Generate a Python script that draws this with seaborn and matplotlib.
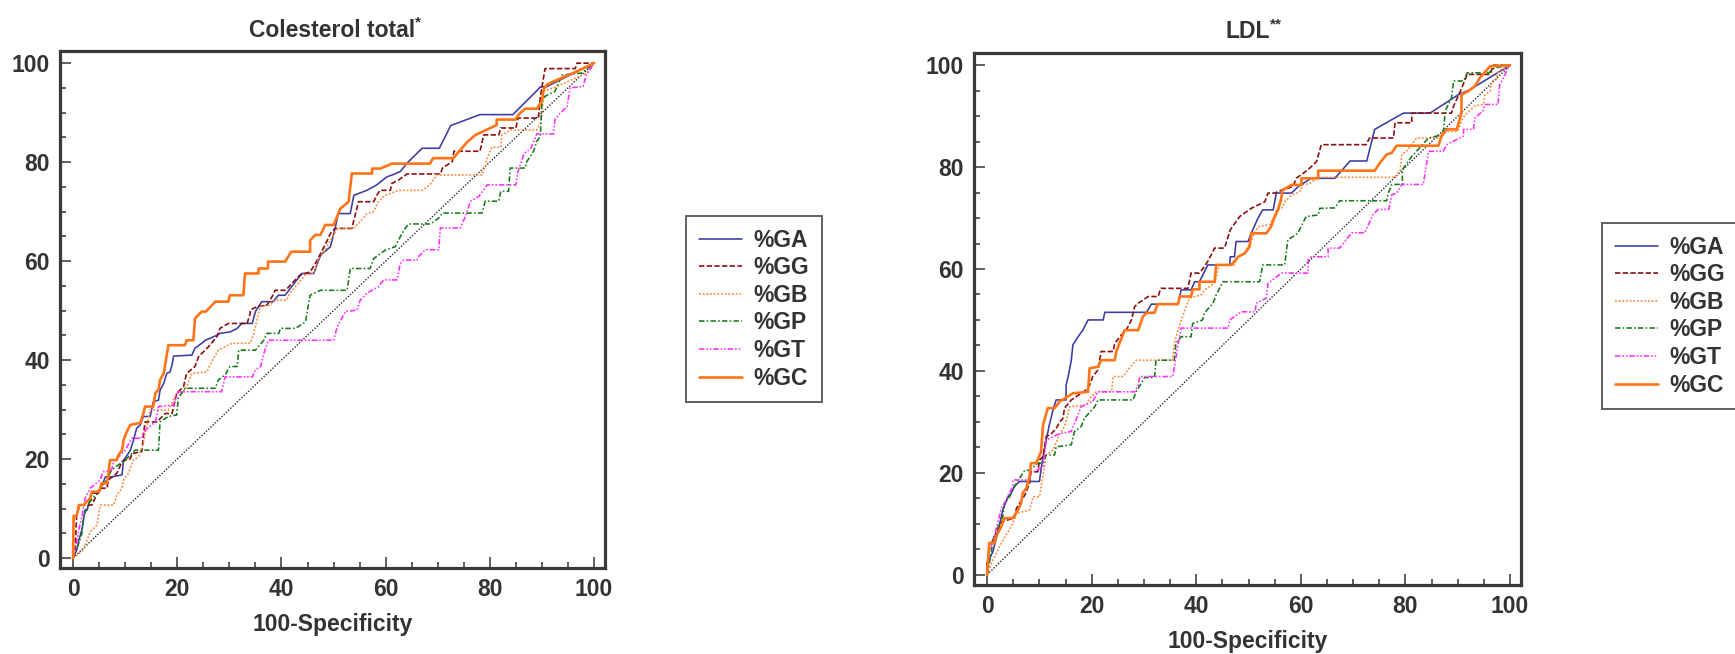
import matplotlib
matplotlib.use("Agg")
import matplotlib.pyplot as plt
from matplotlib.lines import Line2D
from matplotlib.ticker import MultipleLocator
import pandas as pd
import seaborn as sns

GROUPS = ["%GA", "%GG", "%GB", "%GP", "%GT", "%GC"]
TITLES = ["Colesterol total", "LDL"]
TITLE_MARKS = ["*", "**"]
X_LABEL = "100-Specificity"
TICKS = [0, 20, 40, 60, 80, 100]

# ---- ROC curves, total cholesterol (x = 100-specificity, y = sensitivity) ----
CT_GA_X = [0, 0.7, 1.1, 1.7, 2.3, 2.7, 3.6, 4.9, 5.2, 6.2, 7.4, 9.4, 9.7, 10.6, 11.0, 11.6, 12.2, 12.9, 13.5, 14.8, 15.4, 16.4, 16.7, 17.4, 18.0, 18.6, 19.0, 19.3, 22.8, 23.4, 24.7, 25.4, 27.6, 28.2, 30.2, 31.5, 32.4, 34.4, 35.0, 36.2, 38.4, 39.4, 40.7, 43.9, 46.2, 47.5, 49.4, 50.3, 50.9, 53.2, 53.9, 56.4, 58.3, 60.2, 61.5, 62.8, 64.1, 67.0, 70.3, 72.5, 78.1, 84.4, 88.7, 89.7, 90.8, 100]
CT_GA_Y = [0, 1.6, 3.6, 5.7, 9.7, 9.7, 13.1, 13.1, 13.7, 16.4, 16.4, 16.8, 19.8, 21.1, 21.8, 23.8, 26.2, 26.9, 28.6, 28.6, 31.6, 31.9, 33.9, 35.3, 37.3, 37.6, 39.0, 40.8, 41.0, 42.4, 43.4, 44.0, 45.0, 45.4, 45.7, 46.4, 47.4, 47.4, 49.8, 51.8, 51.8, 53.1, 53.1, 57.5, 57.5, 61.2, 62.9, 66.6, 69.6, 69.6, 73.3, 74.3, 75.4, 77.0, 77.5, 78.1, 79.8, 82.8, 82.8, 87.4, 89.6, 89.6, 94.1, 95.2, 95.2, 100]

CT_GG_X = [0, 0.4, 0.7, 1.4, 3.6, 4.4, 5.2, 6.5, 6.8, 8.4, 9.0, 9.4, 11.0, 11.3, 13.2, 13.5, 13.8, 16.1, 17.7, 19.0, 19.9, 21.2, 21.8, 23.4, 24.1, 26.0, 27.6, 28.2, 29.8, 33.4, 34.0, 34.0, 35.3, 37.2, 38.2, 38.8, 40.8, 42.0, 43.6, 45.5, 46.5, 47.5, 48.8, 49.4, 50.3, 53.5, 54.8, 57.7, 58.3, 58.9, 60.9, 61.2, 62.5, 64.1, 70.5, 70.9, 72.8, 73.1, 78.1, 78.4, 78.8, 81.7, 82.1, 85.0, 85.4, 89.3, 89.7, 90.6, 96.4, 96.7, 100]
CT_GG_Y = [0, 1.6, 9.0, 10.7, 10.7, 12.5, 14.1, 14.1, 15.8, 17.1, 18.5, 19.5, 20.1, 21.1, 21.5, 24.5, 27.5, 27.5, 29.2, 29.2, 33.3, 34.6, 37.3, 38.7, 40.7, 42.7, 44.7, 46.4, 47.4, 47.4, 49.4, 50.1, 50.8, 51.1, 52.8, 54.1, 54.1, 55.5, 57.2, 57.8, 59.5, 61.5, 64.2, 65.6, 66.6, 66.6, 72.0, 72.0, 73.3, 74.3, 74.3, 75.7, 76.4, 77.6, 77.6, 78.8, 80.1, 82.2, 82.2, 83.5, 85.5, 85.5, 86.9, 86.9, 88.9, 88.9, 93.3, 98.9, 98.9, 100, 100]

CT_GB_X = [0, 2.0, 3.3, 4.6, 5.2, 7.8, 8.4, 9.4, 9.7, 10.6, 11.6, 12.6, 13.5, 14.0, 14.8, 18.3, 19.9, 21.5, 22.8, 25.7, 26.6, 27.9, 30.5, 34.0, 34.7, 35.9, 37.8, 38.8, 41.0, 41.6, 44.6, 46.2, 47.1, 48.7, 49.4, 50.7, 53.8, 54.8, 56.4, 57.7, 58.6, 59.9, 62.5, 67.0, 68.5, 69.8, 78.5, 79.1, 79.5, 80.4, 82.1, 82.3, 84.0, 89.0, 89.7, 90.0, 90.3, 92.2, 93.5, 98.6, 100]
CT_GB_Y = [0, 1.6, 5.3, 6.7, 10.7, 10.7, 12.7, 14.1, 15.8, 17.1, 19.8, 20.5, 23.2, 26.0, 29.9, 29.9, 33.3, 33.9, 37.3, 37.6, 39.7, 42.0, 43.4, 43.4, 45.4, 50.8, 51.1, 52.1, 52.1, 53.5, 57.2, 57.5, 60.2, 62.9, 64.2, 66.6, 66.6, 67.6, 69.6, 70.0, 72.0, 73.3, 74.3, 74.3, 75.4, 77.4, 77.4, 79.1, 80.8, 83.0, 83.0, 85.5, 86.5, 86.5, 87.9, 89.6, 94.3, 95.0, 95.6, 98.0, 100]

CT_GP_X = [0, 1.1, 1.7, 2.0, 3.0, 4.9, 6.5, 7.4, 10.0, 11.9, 16.4, 16.7, 18.3, 19.9, 20.2, 21.5, 27.3, 27.9, 29.2, 30.1, 31.5, 31.8, 35.0, 36.6, 37.2, 39.5, 39.8, 42.7, 44.6, 45.5, 47.5, 52.6, 53.2, 57.0, 57.7, 59.9, 61.8, 62.8, 63.8, 64.4, 68.6, 70.2, 70.9, 78.5, 79.1, 81.7, 82.1, 83.6, 83.9, 86.8, 87.1, 88.4, 89.0, 89.7, 90.0, 90.6, 92.5, 93.8, 97.6, 100]
CT_GP_Y = [0, 3.0, 5.0, 8.4, 11.0, 13.7, 15.8, 17.8, 19.8, 21.8, 21.8, 27.5, 28.6, 28.9, 32.3, 34.3, 34.3, 36.0, 37.0, 38.7, 38.7, 42.0, 42.0, 44.0, 45.4, 45.4, 46.4, 46.4, 47.7, 53.1, 54.1, 54.1, 58.5, 58.5, 60.5, 62.2, 62.9, 64.9, 66.7, 67.5, 67.5, 68.7, 69.7, 69.7, 72.1, 72.1, 74.1, 74.1, 78.8, 78.8, 80.1, 82.2, 84.2, 85.2, 92.3, 93.3, 94.3, 97.6, 98.0, 100]

CT_GT_X = [0, 0.4, 1.1, 1.7, 2.3, 3.3, 5.2, 5.8, 7.4, 7.8, 10.0, 11.3, 13.2, 13.5, 15.8, 16.4, 19.3, 20.2, 28.5, 29.2, 34.4, 35.0, 36.0, 36.6, 37.5, 50.0, 50.7, 52.3, 54.5, 55.1, 56.4, 58.6, 59.6, 62.2, 62.8, 63.5, 66.0, 66.3, 67.6, 70.2, 70.5, 74.3, 75.3, 76.3, 77.9, 79.5, 85.0, 85.3, 86.6, 87.9, 89.0, 92.2, 92.5, 93.5, 94.8, 95.4, 97.9, 98.5, 100]
CT_GT_Y = [0, 1.6, 5.7, 8.4, 12.0, 14.1, 15.8, 17.4, 17.8, 19.5, 21.8, 24.2, 24.2, 25.5, 27.5, 30.6, 30.9, 33.6, 33.6, 36.6, 36.6, 38.0, 38.7, 41.3, 44.0, 44.0, 46.7, 49.8, 50.1, 52.1, 53.5, 54.8, 56.2, 56.2, 59.5, 60.2, 60.2, 60.9, 62.3, 62.3, 66.7, 66.7, 69.0, 72.1, 73.1, 75.4, 75.4, 77.8, 81.8, 82.8, 85.7, 85.7, 88.6, 89.9, 91.2, 95.0, 95.3, 97.6, 100]

CT_GC_X = [0, 0.1, 0.7, 1.1, 2.0, 3.3, 3.6, 5.0, 5.5, 6.5, 6.8, 7.1, 8.4, 8.7, 9.4, 9.7, 10.3, 11.0, 12.9, 13.5, 13.8, 15.4, 15.8, 16.4, 16.7, 17.4, 18.3, 21.5, 21.8, 23.1, 23.4, 24.7, 25.5, 27.3, 29.8, 30.1, 32.7, 33.0, 35.6, 35.6, 37.4, 37.4, 40.7, 41.9, 45.5, 45.5, 46.5, 47.5, 48.4, 50.0, 51.3, 52.9, 53.5, 57.4, 57.4, 59.0, 61.2, 68.5, 69.1, 73.0, 75.6, 77.1, 81.3, 81.3, 84.9, 85.5, 86.8, 89.0, 90.0, 90.3, 90.9, 92.2, 96.0, 100]
CT_GC_Y = [0, 8.5, 8.5, 10.7, 10.7, 12.1, 13.4, 13.4, 15.1, 15.1, 17.1, 19.8, 19.8, 20.8, 21.8, 23.8, 25.5, 26.9, 27.3, 29.2, 30.6, 30.6, 33.3, 34.0, 36.0, 37.3, 43.0, 43.0, 44.0, 44.0, 48.4, 49.8, 49.8, 51.8, 51.8, 53.1, 53.1, 57.5, 57.5, 58.5, 58.5, 59.9, 59.9, 61.9, 61.9, 64.2, 65.3, 65.3, 67.3, 67.3, 70.6, 72.0, 77.7, 77.7, 78.7, 78.7, 79.7, 79.7, 80.8, 80.8, 84.0, 85.4, 87.5, 88.6, 88.6, 89.6, 90.8, 90.8, 92.3, 94.6, 95.6, 96.3, 98.0, 100]

# ---- ROC curves, LDL ----
LDL_GA_X = [0, 0.0, 1.1, 2.0, 3.0, 4.0, 4.6, 5.2, 6.2, 10.0, 10.3, 10.7, 11.3, 11.9, 12.6, 13.2, 15.1, 15.1, 15.5, 16.1, 16.4, 17.4, 18.3, 19.3, 22.2, 22.5, 30.5, 31.4, 36.5, 37.1, 39.0, 39.7, 40.6, 42.2, 46.4, 46.5, 47.3, 47.6, 49.9, 50.5, 51.8, 52.7, 54.7, 55.3, 58.2, 59.5, 62.0, 66.5, 69.4, 72.6, 74.1, 79.6, 84.7, 90.1, 92.3, 100]
LDL_GA_Y = [0, 2.2, 4.5, 8.1, 12.7, 15.3, 16.0, 17.3, 18.3, 18.3, 20.5, 23.2, 26.4, 29.4, 32.3, 34.3, 34.3, 37.2, 38.9, 42.1, 45.1, 46.7, 48.0, 50.0, 50.0, 51.5, 51.5, 53.1, 53.1, 55.9, 55.9, 57.5, 57.5, 60.8, 60.8, 62.4, 62.4, 65.4, 65.4, 67.0, 70.0, 71.6, 71.6, 74.9, 74.9, 76.2, 77.8, 77.8, 81.2, 81.2, 87.4, 90.6, 90.6, 94.2, 95.2, 100]

LDL_GG_X = [0, 0.0, 0.4, 1.7, 2.7, 5.2, 5.6, 6.2, 7.2, 8.1, 8.4, 9.7, 10.0, 10.7, 11.3, 12.3, 13.2, 13.9, 14.5, 14.8, 16.1, 19.0, 19.6, 20.2, 21.2, 21.8, 24.1, 24.4, 25.7, 26.6, 27.6, 28.2, 28.9, 30.8, 32.7, 33.2, 38.4, 39.0, 40.6, 41.3, 42.2, 43.5, 45.4, 46.5, 48.3, 50.5, 53.1, 53.7, 55.0, 55.6, 58.5, 59.1, 61.4, 63.0, 63.9, 72.5, 73.1, 77.7, 78.0, 81.2, 81.2, 88.8, 89.2, 90.5, 91.8, 96.2, 96.8, 100]
LDL_GG_Y = [0, 2.2, 5.2, 8.1, 10.4, 11.1, 13.0, 14.0, 15.6, 17.9, 20.2, 20.2, 22.5, 23.2, 27.1, 27.7, 28.7, 30.0, 30.7, 32.7, 34.3, 36.3, 37.2, 38.9, 40.2, 43.8, 43.8, 45.4, 47.1, 48.0, 50.0, 52.6, 53.3, 54.6, 54.6, 56.2, 56.2, 59.2, 59.2, 60.1, 61.5, 64.1, 64.1, 67.7, 70.3, 71.9, 73.2, 74.9, 74.9, 75.2, 76.2, 77.8, 79.5, 81.1, 84.4, 84.4, 85.7, 85.7, 88.7, 88.7, 90.6, 90.6, 92.0, 94.9, 98.2, 98.2, 100, 100]

LDL_GB_X = [0, 0.8, 2.7, 4.0, 4.9, 5.6, 8.1, 8.8, 10.0, 10.3, 11.3, 12.6, 13.9, 14.8, 15.5, 15.8, 19.0, 19.6, 20.9, 23.8, 24.1, 26.0, 26.9, 28.5, 35.5, 35.8, 36.5, 37.7, 38.7, 40.9, 41.6, 43.5, 44.4, 47.3, 47.9, 49.2, 50.5, 51.8, 54.0, 54.7, 55.3, 56.3, 56.9, 58.2, 59.8, 60.4, 61.7, 63.0, 63.6, 78.0, 79.0, 79.3, 80.2, 82.1, 86.3, 87.2, 90.0, 90.7, 91.4, 93.3, 94.9, 95.2, 96.2, 96.5, 97.4, 97.7, 100]
LDL_GB_Y = [0, 2.2, 6.2, 8.4, 10.1, 12.0, 12.7, 15.3, 15.3, 17.0, 23.5, 24.5, 27.7, 29.1, 31.7, 33.0, 33.3, 34.6, 35.9, 35.9, 38.9, 38.9, 40.2, 42.1, 42.1, 45.4, 48.0, 51.6, 54.3, 54.9, 55.9, 57.2, 60.8, 60.8, 62.4, 63.1, 65.7, 68.3, 68.7, 70.0, 71.6, 71.9, 73.2, 74.5, 75.2, 76.5, 76.8, 77.8, 78.0, 78.0, 79.5, 82.5, 83.1, 85.7, 85.7, 87.0, 87.0, 89.0, 90.3, 92.0, 92.3, 94.2, 94.9, 96.9, 97.2, 98.8, 100]

LDL_GP_X = [0, 0.8, 1.1, 2.0, 3.0, 3.3, 4.3, 5.2, 7.2, 8.1, 9.7, 10.7, 11.3, 12.9, 13.2, 16.1, 16.7, 18.0, 18.6, 20.6, 21.2, 27.9, 28.5, 29.5, 30.1, 32.0, 32.3, 35.8, 36.1, 37.1, 39.0, 39.3, 41.2, 41.5, 43.2, 43.8, 45.1, 52.1, 52.7, 56.9, 57.5, 59.4, 61.0, 63.3, 63.6, 66.5, 67.4, 76.4, 76.7, 77.4, 79.4, 79.4, 81.2, 84.4, 87.2, 87.6, 88.8, 89.2, 91.1, 91.8, 95.9, 97.1, 100]
LDL_GP_Y = [0, 4.2, 6.8, 9.1, 11.4, 14.0, 15.3, 17.3, 20.5, 20.5, 21.9, 21.9, 23.5, 23.5, 25.1, 25.5, 28.1, 29.1, 30.7, 33.0, 34.3, 34.3, 35.9, 37.6, 38.7, 38.7, 42.1, 42.1, 45.4, 46.7, 46.7, 49.3, 50.0, 51.3, 53.3, 54.9, 57.5, 57.5, 60.8, 60.8, 65.7, 67.0, 70.3, 70.6, 71.9, 72.0, 73.4, 73.4, 74.9, 76.6, 76.6, 79.5, 82.1, 85.7, 86.4, 91.0, 93.6, 96.9, 96.9, 98.5, 98.5, 99.5, 100]

LDL_GT_X = [0, 0.4, 1.4, 2.7, 3.3, 4.0, 4.9, 4.9, 8.1, 8.4, 10.7, 11.3, 13.9, 16.1, 18.0, 20.2, 21.2, 28.2, 28.9, 29.2, 35.5, 36.5, 37.1, 46.1, 46.4, 48.6, 51.2, 51.5, 53.4, 53.7, 56.3, 61.4, 61.4, 62.0, 65.2, 65.2, 67.4, 69.7, 72.2, 73.8, 74.8, 76.8, 77.4, 78.3, 79.3, 83.4, 83.8, 84.4, 87.2, 87.9, 91.1, 91.1, 93.0, 93.3, 94.8, 95.2, 97.7, 98.0, 98.6, 99.6, 100]
LDL_GT_Y = [0, 4.5, 7.5, 13.0, 14.0, 15.6, 17.3, 18.6, 18.6, 19.9, 21.2, 26.4, 27.7, 28.1, 33.0, 34.0, 35.9, 35.9, 37.2, 38.9, 38.9, 45.1, 48.4, 48.4, 50.0, 51.6, 51.6, 53.3, 54.3, 57.2, 59.2, 59.2, 61.8, 62.4, 62.4, 64.1, 64.1, 67.1, 67.1, 70.7, 71.7, 71.7, 74.6, 74.9, 76.6, 76.6, 79.2, 83.1, 83.1, 84.4, 86.1, 87.4, 87.4, 89.7, 91.0, 92.3, 92.3, 96.2, 97.2, 99.5, 100]

LDL_GC_X = [0, 0.4, 1.4, 1.7, 2.7, 3.3, 4.9, 5.9, 6.5, 6.8, 7.5, 8.1, 8.4, 9.4, 10.3, 10.7, 11.6, 12.9, 13.9, 16.4, 19.3, 19.6, 21.2, 21.8, 24.4, 24.7, 26.3, 28.9, 29.8, 30.5, 32.0, 32.6, 36.5, 36.8, 39.0, 39.3, 40.6, 40.6, 43.5, 43.8, 46.7, 48.0, 49.3, 50.2, 50.5, 53.4, 54.3, 54.9, 55.6, 56.2, 56.5, 58.2, 60.1, 60.1, 63.3, 63.3, 74.1, 75.1, 76.4, 77.4, 78.3, 86.3, 86.9, 87.9, 89.8, 90.7, 90.7, 92.0, 93.3, 94.2, 96.2, 100]
LDL_GC_Y = [0, 6.2, 6.2, 7.5, 9.4, 11.1, 11.1, 12.7, 14.0, 16.0, 17.0, 19.2, 21.9, 21.9, 24.1, 29.4, 32.7, 32.7, 34.0, 35.6, 35.9, 40.5, 40.8, 42.1, 42.1, 43.8, 48.0, 48.0, 50.7, 51.4, 51.4, 53.1, 53.1, 54.6, 54.6, 56.0, 56.0, 57.5, 57.5, 60.8, 60.8, 62.4, 63.1, 64.4, 67.0, 67.0, 68.3, 70.0, 71.6, 73.6, 75.5, 76.5, 76.5, 77.8, 77.8, 79.3, 79.3, 80.8, 82.5, 82.8, 84.2, 84.2, 86.1, 87.4, 87.4, 90.6, 94.2, 94.9, 95.9, 97.5, 99.8, 100]

PANELS = [
    {"%GA": (CT_GA_X, CT_GA_Y), "%GG": (CT_GG_X, CT_GG_Y), "%GB": (CT_GB_X, CT_GB_Y),
     "%GP": (CT_GP_X, CT_GP_Y), "%GT": (CT_GT_X, CT_GT_Y), "%GC": (CT_GC_X, CT_GC_Y)},
    {"%GA": (LDL_GA_X, LDL_GA_Y), "%GG": (LDL_GG_X, LDL_GG_Y), "%GB": (LDL_GB_X, LDL_GB_Y),
     "%GP": (LDL_GP_X, LDL_GP_Y), "%GT": (LDL_GT_X, LDL_GT_Y), "%GC": (LDL_GC_X, LDL_GC_Y)},
]
CHANCE_X = [0, 100]
CHANCE_Y = [0, 100]

# ---- styling ----
INK = "#333333"
COLORS = {"%GA": "#3b3ba3", "%GG": "#8b0f0f", "%GB": "#ff8a3d",
          "%GP": "#157a15", "%GT": "#ff2cff", "%GC": "#ff7417"}
DASHES = {"%GA": "", "%GG": (3.2, 1.4), "%GB": (1.1, 1.1),
          "%GP": (3.4, 1.4, 1.0, 1.4), "%GT": (3.4, 1.2, 1.0, 1.2, 1.0, 1.2),
          "%GC": ""}
WIDTHS = {"%GA": 1.15, "%GG": 1.2, "%GB": 1.2, "%GP": 1.15, "%GT": 1.15, "%GC": 1.9}

sns.set_theme(style="white")
plt.rcParams["font.family"] = ["Liberation Sans", "DejaVu Sans"]
plt.rcParams["font.weight"] = "bold"
plt.rcParams["text.color"] = INK

FS = 16.5
fig = plt.figure(figsize=(17.35, 6.54), dpi=100)
axes = [fig.add_axes([0.0343, 0.1309, 0.3144, 0.7907]),
        fig.add_axes([0.5611, 0.1049, 0.3156, 0.8141])]
legend_anchor = [(686 / 1735, 1 - 216 / 654), (1602 / 1735, 1 - 223 / 654)]

for ax, curves, title, mark, anchor in zip(axes, PANELS, TITLES, TITLE_MARKS, legend_anchor):
    # chance diagonal
    diag = pd.DataFrame({"x": CHANCE_X, "y": CHANCE_Y})
    sns.lineplot(data=diag, x="x", y="y", ax=ax, color="#2a2a2a", lw=1.0,
                 sort=False, estimator=None)
    ax.lines[-1].set_dashes((1.0, 1.2))

    frames = []
    for g in GROUPS:
        xs, ys = curves[g]
        frames.append(pd.DataFrame({"fpr": xs, "tpr": ys, "group": g}))
    df = pd.concat(frames, ignore_index=True)
    sns.lineplot(data=df, x="fpr", y="tpr", hue="group", style="group", size="group",
                 hue_order=GROUPS, style_order=GROUPS, size_order=GROUPS,
                 palette=COLORS, dashes=DASHES, sizes=WIDTHS,
                 sort=False, estimator=None, legend=False, ax=ax)

    ax.set_xlim(-2.6, 102.1)
    ax.set_ylim(-2.1, 102.4)
    ax.xaxis.set_minor_locator(MultipleLocator(5))
    ax.yaxis.set_minor_locator(MultipleLocator(5))
    ax.set_xticks(TICKS)
    ax.set_yticks(TICKS)
    ax.tick_params(which="both", direction="in", color=INK, width=1.1,
                   bottom=True, left=True, top=False, right=False,
                   labelsize=FS, labelcolor=INK)
    ax.tick_params(which="major", length=8, pad=7)
    ax.tick_params(which="minor", length=4.5)
    for lab in ax.get_xticklabels() + ax.get_yticklabels():
        lab.set_fontweight("bold")
    for sp in ax.spines.values():
        sp.set_visible(True)
        sp.set_color("#3a3a3a")
        sp.set_linewidth(2.3)

    ax.set_xlabel(X_LABEL, fontsize=FS, fontweight="bold", color=INK, labelpad=8.5)
    ax.set_ylabel("")
    t = ax.set_title(title, fontsize=16.5, fontweight="bold", color=INK, pad=10.5)
    ax.annotate(mark, xy=(1, 1), xycoords=t, xytext=(0, 2), textcoords="offset points",
                ha="left", va="top", fontsize=11, fontweight="bold", color=INK)

    handles = [Line2D([0], [0], color=COLORS[g], lw=WIDTHS[g],
                      dashes=DASHES[g] if DASHES[g] else (None, None))
               for g in GROUPS]
    leg = fig.legend(handles, GROUPS, loc="upper left", bbox_to_anchor=anchor,
                     frameon=True, fancybox=False, shadow=False,
                     prop={"weight": "bold", "size": FS}, borderpad=0.55,
                     labelspacing=0.2, handlelength=1.88, handletextpad=0.52,
                     borderaxespad=0)
    leg.get_frame().set_edgecolor("#3a3a3a")
    leg.get_frame().set_linewidth(1.4)
    for txt in leg.get_texts():
        txt.set_color(INK)
        txt.set_fontsize(FS)

fig.savefig("out.png", dpi=100, facecolor="white")
